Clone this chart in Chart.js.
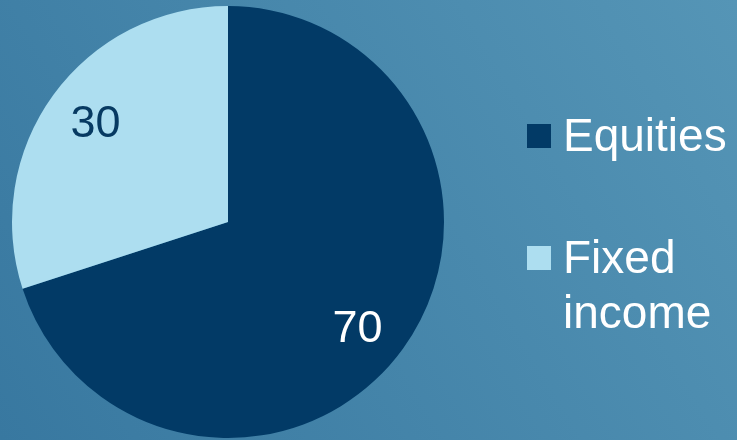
<!DOCTYPE html>
<html>
<head>
<meta charset="utf-8">
<script src="https://cdn.jsdelivr.net/npm/chart.js@4/dist/chart.umd.min.js"></script>
<style>
  html, body { margin: 0; padding: 0; background: #4686aa; }
  #wrap { width: 737px; height: 440px; position: relative; }
</style>
</head>
<body>
<div id="wrap"><canvas id="myChart" width="737" height="440"></canvas></div>
<script>
const categories = ['Equities', 'Fixed income']
const legendLines = [['Equities'], ['Fixed', 'income']]
const values = [70, 30]
const sliceColors = ['#023a66', '#addef0']
const labelColors = ['#ffffff', '#073a62']

// gradient background behind everything
const backgroundPlugin = {
  id: 'bg',
  beforeDraw(chart) {
    const ctx = chart.ctx
    const w = chart.width, h = chart.height
    const g = ctx.createLinearGradient(0, h, w, 0)
    g.addColorStop(0, '#3878a0')
    g.addColorStop(1, '#5595b6')
    ctx.save()
    ctx.fillStyle = g
    ctx.fillRect(0, 0, w, h)
    ctx.restore()
  }
}

// value labels inside slices (small nudge so they sit like the original)
const labelNudge = [[-6, 9], [3, 1]]
const valueLabels = {
  id: 'valueLabels',
  afterDatasetsDraw(chart) {
    const ctx = chart.ctx
    const meta = chart.getDatasetMeta(0)
    ctx.save()
    ctx.font = '45px "Liberation Sans", Arial, sans-serif'
    ctx.textAlign = 'center'
    ctx.textBaseline = 'middle'
    meta.data.forEach((arc, i) => {
      const mid = (arc.startAngle + arc.endAngle) / 2
      const r = arc.outerRadius * 0.775
      ctx.fillStyle = labelColors[i]
      ctx.fillText(String(values[i]),
        arc.x + Math.cos(mid) * r + labelNudge[i][0],
        arc.y + Math.sin(mid) * r + labelNudge[i][1])
    })
    ctx.restore()
  }
}

// legend on the right with wrapped text
const sideLegend = {
  id: 'sideLegend',
  afterDraw(chart) {
    const ctx = chart.ctx
    const boxX = 527, textX = 563
    const tops = [124, 246]
    ctx.save()
    ctx.font = '46px "Liberation Sans", Arial, sans-serif'
    ctx.textBaseline = 'alphabetic'
    ctx.textAlign = 'left'
    categories.forEach((c, i) => {
      ctx.fillStyle = sliceColors[i]
      ctx.fillRect(boxX, tops[i], 24, 24)
      ctx.fillStyle = '#ffffff'
      legendLines[i].forEach((line, j) => {
        ctx.fillText(line, textX, tops[i] + 27 + j * 55)
      })
    })
    ctx.restore()
  }
}

const ctx = document.getElementById('myChart')

new Chart(ctx, {
  type: 'pie',
  data: {
    labels: categories,
    datasets: [{
      data: values,
      backgroundColor: sliceColors,
      borderWidth: 0
    }]
  },
  options: {
    responsive: false,
    animation: false,
    layout: { padding: { left: 11, right: 292, top: 6, bottom: 2 } },
    plugins: {
      legend: { display: false },
      tooltip: { enabled: false }
    }
  },
  plugins: [backgroundPlugin, valueLabels, sideLegend]
})
</script>
</body>
</html>
